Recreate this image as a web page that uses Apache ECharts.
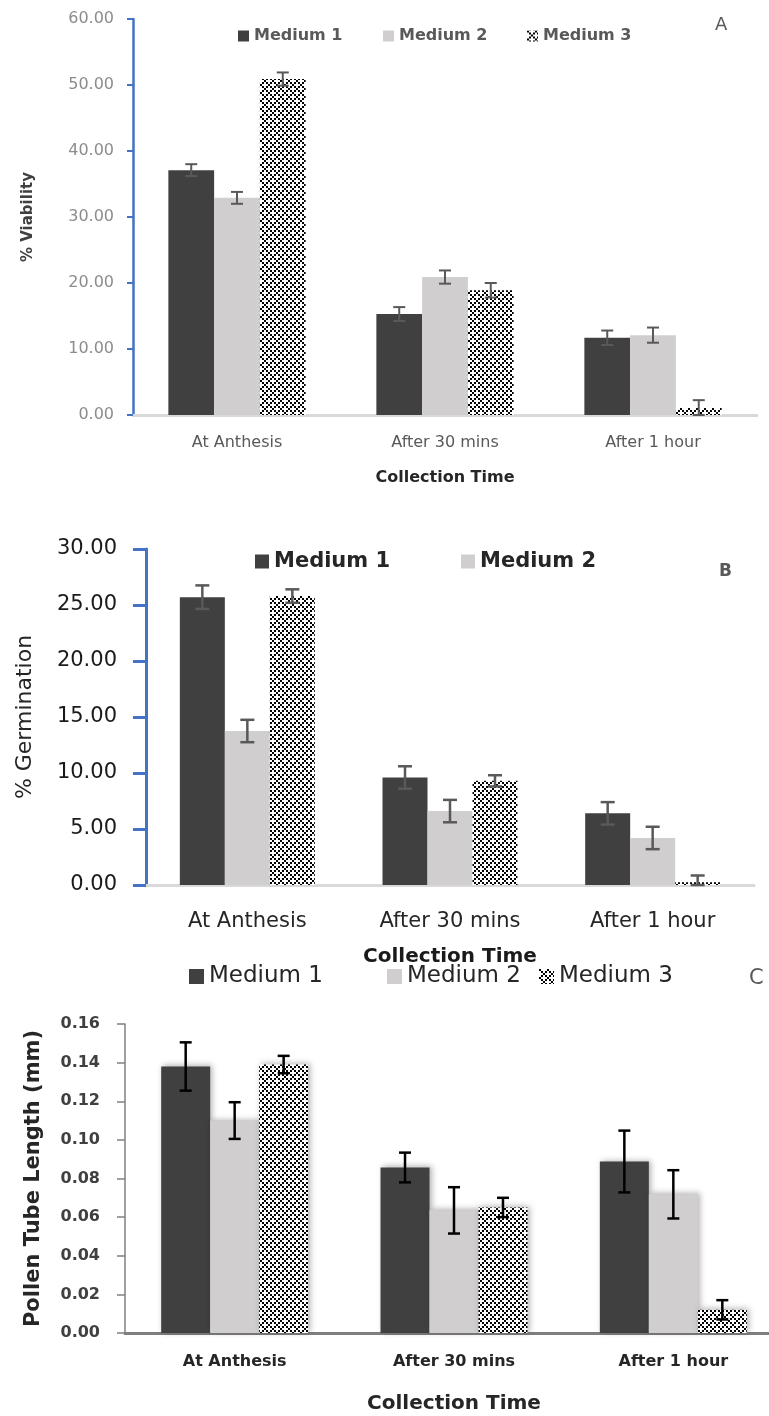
<!DOCTYPE html>
<html>
<head>
<meta charset="utf-8">
<script src="https://cdn.jsdelivr.net/npm/echarts@6/dist/echarts.min.js"></script>
<style>
  html, body { margin: 0; padding: 0; background: #fff; }
  #chart { width: 769px; height: 1416px; }
</style>
</head>
<body>
<div id="chart"></div>
<script>
const categories = ["At Anthesis", "After 30 mins", "After 1 hour"];
const mediums = ["Medium 1", "Medium 2", "Medium 3"];

// A - % viability
const viabilityM1 = [37.1, 15.3, 11.7];
const viabilityM2 = [32.9, 20.9, 12.1];
const viabilityM3 = [50.9, 18.9, 1.05];
const viabilityErrM1 = [0.9, 1.05, 1.1];
const viabilityErrM2 = [0.9, 1.0, 1.15];
const viabilityErrM3 = [1.0, 1.1, 1.2];

// B - % germination
const germinationM1 = [25.7, 9.6, 6.4];
const germinationM2 = [13.75, 6.6, 4.2];
const germinationM3 = [25.8, 9.3, 0.25];
const germinationErrM1 = [1.05, 1.0, 1.0];
const germinationErrM2 = [1.0, 1.0, 1.0];
const germinationErrM3 = [0.6, 0.5, 0.6];

// C - pollen tube length (mm)
const tubeM1 = [0.138, 0.0857, 0.0888];
const tubeM2 = [0.110, 0.0635, 0.0718];
const tubeM3 = [0.139, 0.065, 0.012];
const tubeErrM1 = [0.0125, 0.0077, 0.016];
const tubeErrM2 = [0.0095, 0.012, 0.0125];
const tubeErrM3 = [0.0045, 0.005, 0.005];

const viabilityTicks = { min: 0, max: 60, interval: 10 };
const germinationTicks = { min: 0, max: 30, interval: 5 };
const tubeTicks = { min: 0, max: 0.16, interval: 0.02 };

const DARK = "#404040";
const LIGHT = "#d0cece";
const FONT = "DejaVu Sans";

/**
 * small diagonal lattice used for the "Medium 3" fill
 * @returns {HTMLCanvasElement}
 */
function makeLattice() {
  const cell = 2;
  const n = 4;
  const canvas = document.createElement("canvas");
  canvas.width = canvas.height = cell * n;
  const ctx = canvas.getContext("2d");
  ctx.fillStyle = "#fff";
  ctx.fillRect(0, 0, canvas.width, canvas.height);
  ctx.fillStyle = "#000";
  for (let i = 0; i < n; i++) {
    for (let j = 0; j < n; j++) {
      if ((i + j) % n === 0 || (i - j + n) % n === 0) {
        ctx.fillRect(i * cell, j * cell, cell, cell);
      }
    }
  }
  return canvas;
}

const lattice = { image: makeLattice(), repeat: "repeat" };

function errorBarRenderer(gap, color, lineWidth, capWidth) {
  return function (params, api) {
    const cat = api.value(0);
    const val = api.value(1);
    const err = api.value(2);
    const k = api.value(3);
    const band = api.size([1, 0])[0];
    const bw = (band * (1 - gap)) / 3;
    const x = api.coord([cat, val])[0] + (k - 1) * bw;
    const yTop = api.coord([cat, val + err])[1];
    const yBot = api.coord([cat, Math.max(val - err, 0)])[1];
    const style = { stroke: color, lineWidth: lineWidth };
    const h = capWidth / 2;
    return {
      type: "group",
      children: [
        { type: "line", shape: { x1: x, y1: yTop, x2: x, y2: yBot }, style },
        { type: "line", shape: { x1: x - h, y1: yTop, x2: x + h, y2: yTop }, style },
        { type: "line", shape: { x1: x - h, y1: yBot, x2: x + h, y2: yBot }, style },
      ],
    };
  };
}

function errorRows(values, errors) {
  const rows = [];
  for (let k = 0; k < values.length; k++) {
    for (let i = 0; i < categories.length; i++) {
      rows.push([i, values[k][i], errors[k][i], k]);
    }
  }
  return rows;
}

function barSeries(index, values, gap, extraStyle) {
  const colors = [DARK, LIGHT, lattice];
  return values.map((data, k) => ({
    type: "bar",
    name: mediums[k],
    xAxisIndex: index,
    yAxisIndex: index,
    data: data,
    barGap: "0%",
    barCategoryGap: gap * 100 + "%",
    itemStyle: Object.assign({ color: colors[k] }, extraStyle || {}),
    emphasis: { disabled: true },
  }));
}

const gapA = 0.34;
const gapB = 0.334;
const gapC = 0.33;

const valuesA = [viabilityM1, viabilityM2, viabilityM3];
const valuesB = [germinationM1, germinationM2, germinationM3];
const valuesC = [tubeM1, tubeM2, tubeM3];

const option = {
  animation: false,
  textStyle: { fontFamily: FONT },
  title: [
    { text: "A", left: 710, top: 11, textStyle: { fontSize: 18, fontWeight: "normal", color: "#595959" } },
    { text: "B", left: 714, top: 558, textStyle: { fontSize: 17, fontWeight: "bold", color: "#595959" } },
    { text: "C", left: 744, top: 963, textStyle: { fontSize: 21, fontWeight: "normal", color: "#595959" } },
  ],
  legend: [
    { data: ["Medium 1"], left: 233, top: 23, itemWidth: 11, itemHeight: 11, icon: "rect",
      textStyle: { fontSize: 16, fontWeight: "bold", color: "#595959" } },
    { data: ["Medium 2"], left: 378, top: 23, itemWidth: 11, itemHeight: 11, icon: "rect",
      textStyle: { fontSize: 16, fontWeight: "bold", color: "#595959" } },
    { data: ["Medium 3"], left: 522, top: 23, itemWidth: 11, itemHeight: 11, icon: "rect",
      textStyle: { fontSize: 16, fontWeight: "bold", color: "#595959" } },
    { data: ["Medium 1"], left: 250, top: 546, itemWidth: 14, itemHeight: 14, icon: "rect",
      textStyle: { fontSize: 21, fontWeight: "bold", color: "#262626" } },
    { data: ["Medium 2"], left: 456, top: 546, itemWidth: 14, itemHeight: 14, icon: "rect",
      textStyle: { fontSize: 21, fontWeight: "bold", color: "#262626" } },
    { data: ["Medium 1"], left: 184, top: 960, itemWidth: 15, itemHeight: 15, icon: "rect",
      textStyle: { fontSize: 23, color: "#262626" } },
    { data: ["Medium 2"], left: 382, top: 960, itemWidth: 15, itemHeight: 15, icon: "rect",
      textStyle: { fontSize: 23, color: "#262626" } },
    { data: ["Medium 3"], left: 534, top: 960, itemWidth: 15, itemHeight: 15, icon: "rect",
      textStyle: { fontSize: 23, color: "#262626" } },
  ],
  grid: [
    { left: 133, top: 19, width: 624, height: 396, outerBoundsMode: "none" },
    { left: 146, top: 549, width: 608, height: 336, outerBoundsMode: "none" },
    { left: 125, top: 1024, width: 658, height: 309, outerBoundsMode: "none" },
  ],
  xAxis: [
    {
      type: "category", gridIndex: 0, data: categories,
      axisLine: { lineStyle: { color: "#d9d9d9", width: 3 } },
      axisTick: { show: false },
      axisLabel: { color: "#595959", fontSize: 16, margin: 20 },
      name: "Collection Time", nameLocation: "middle", nameGap: 55,
      nameTextStyle: { fontSize: 16, fontWeight: "bold", color: "#262626" },
    },
    {
      type: "category", gridIndex: 1, data: categories,
      axisLine: { lineStyle: { color: "#d9d9d9", width: 3 } },
      axisTick: { show: false },
      axisLabel: { color: "#262626", fontSize: 21, margin: 26 },
      name: "Collection Time", nameLocation: "middle", nameGap: 62,
      nameTextStyle: { fontSize: 20, fontWeight: "bold", color: "#1a1a1a" },
    },
    {
      type: "category", gridIndex: 2, data: categories,
      axisLine: { lineStyle: { color: "#7f7f7f", width: 3 } },
      axisTick: { show: false },
      axisLabel: { color: "#262626", fontSize: 16, fontWeight: "bold", margin: 21 },
      name: "Collection Time", nameLocation: "middle", nameGap: 61,
      nameTextStyle: { fontSize: 20, fontWeight: "bold", color: "#262626" },
    },
  ],
  yAxis: [
    Object.assign({
      type: "value", gridIndex: 0,
      axisLine: { show: true, lineStyle: { color: "#4472c4", width: 2.5 } },
      axisTick: { show: true, length: 6, lineStyle: { color: "#4472c4", width: 2 } },
      splitLine: { show: false },
      axisLabel: { color: "#8c8c8c", fontSize: 16, margin: 19, formatter: (v) => v.toFixed(2) },
      name: "% Viability", nameLocation: "middle", nameGap: 97,
      nameTextStyle: { fontSize: 15, fontWeight: "bold", color: "#404040" },
    }, viabilityTicks),
    Object.assign({
      type: "value", gridIndex: 1,
      axisLine: { show: true, lineStyle: { color: "#4472c4", width: 3 } },
      axisTick: { show: true, length: 13, lineStyle: { color: "#4472c4", width: 3 } },
      splitLine: { show: false },
      axisLabel: { color: "#1a1a1a", fontSize: 21, margin: 29, formatter: (v) => v.toFixed(2) },
      name: "% Germination", nameLocation: "middle", nameGap: 110,
      nameTextStyle: { fontSize: 22, color: "#262626" },
    }, germinationTicks),
    Object.assign({
      type: "value", gridIndex: 2,
      axisLine: { show: true, lineStyle: { color: "#808080", width: 1.5 } },
      axisTick: { show: true, length: 8, lineStyle: { color: "#808080", width: 1.5 } },
      splitLine: { show: false },
      axisLabel: { color: "#404040", fontSize: 16, fontWeight: "bold", margin: 25, formatter: (v) => v.toFixed(2) },
      name: "Pollen Tube Length (mm)", nameLocation: "middle", nameGap: 81,
      nameTextStyle: { fontSize: 21, fontWeight: "bold", color: "#262626" },
    }, tubeTicks),
  ],
  series: [
    ...barSeries(0, valuesA, gapA),
    ...barSeries(1, valuesB, gapB),
    ...barSeries(2, valuesC, gapC, {
      shadowBlur: 6, shadowColor: "rgba(0,0,0,0.3)", shadowOffsetX: 2, shadowOffsetY: -1,
    }),
    {
      type: "custom", name: "errA", xAxisIndex: 0, yAxisIndex: 0, z: 5,
      renderItem: errorBarRenderer(gapA, "#595959", 2, 12),
      encode: { x: 0, y: 1 },
      data: errorRows(valuesA, [viabilityErrM1, viabilityErrM2, viabilityErrM3]),
    },
    {
      type: "custom", name: "errB", xAxisIndex: 1, yAxisIndex: 1, z: 5,
      renderItem: errorBarRenderer(gapB, "#595959", 2.5, 14),
      encode: { x: 0, y: 1 },
      data: errorRows(valuesB, [germinationErrM1, germinationErrM2, germinationErrM3]),
    },
    {
      type: "custom", name: "errC", xAxisIndex: 2, yAxisIndex: 2, z: 5,
      renderItem: errorBarRenderer(gapC, "#000", 2.5, 12),
      encode: { x: 0, y: 1 },
      data: errorRows(valuesC, [tubeErrM1, tubeErrM2, tubeErrM3]),
    },
  ],
};

const chart = echarts.init(document.getElementById("chart"), null, { renderer: "canvas" });
chart.setOption(option);
</script>
</body>
</html>
